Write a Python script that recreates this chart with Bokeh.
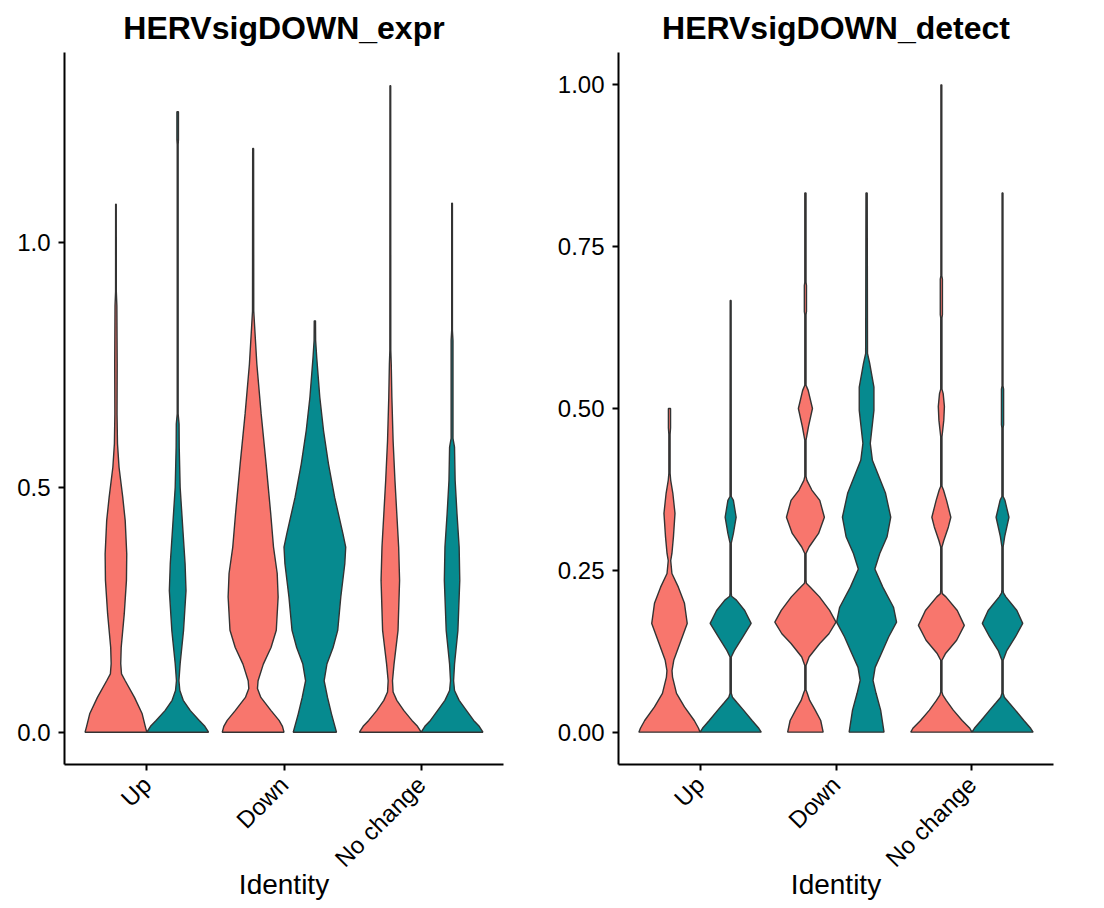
import math
from bokeh.plotting import figure
from bokeh.layouts import row
from bokeh.models import FixedTicker, NumeralTickFormatter
from bokeh.embed import file_html
from bokeh.resources import INLINE

# ---------------- data ----------------
CATEGORIES = ["Up", "Down", "No change"]
CAT_POS = [1, 2, 3]
SPLIT_COLORS = ["#F8766D", "#068A8F"]   # first / second split group
TITLES = ["HERVsigDOWN_expr", "HERVsigDOWN_detect"]
X_LABEL = "Identity"
EXPR_TICKS = [0.0, 0.5, 1.0]
DETECT_TICKS = [0.0, 0.25, 0.5, 0.75, 1.0]

# violin density profiles: value (y) and relative half-width (0..1)
EXPR_UP_A_Y = [0, 0.012, 0.0375, 0.071, 0.105, 0.119, 0.140, 0.173, 0.242, 0.310, 0.364, 0.432, 0.480, 0.541, 0.589, 0.650, 0.752, 0.871, 0.90, 1.078]
EXPR_UP_A_W = [1.0, 0.95, 0.85, 0.60, 0.30, 0.18, 0.155, 0.17, 0.27, 0.34, 0.35, 0.30, 0.22, 0.10, 0.05, 0.035, 0.04, 0.03, 0.012, 0.01]
EXPR_UP_B_Y = [0, 0.012, 0.024, 0.044, 0.065, 0.085, 0.105, 0.140, 0.208, 0.289, 0.344, 0.412, 0.500, 0.582, 0.629, 0.65, 1.20, 1.21, 1.267]
EXPR_UP_B_W = [1.0, 0.88, 0.70, 0.41, 0.18, 0.07, 0.04, 0.08, 0.19, 0.27, 0.24, 0.17, 0.08, 0.05, 0.045, 0.015, 0.015, 0.025, 0.025]
EXPR_DOWN_A_Y = [0, 0.012, 0.024, 0.044, 0.071, 0.089, 0.105, 0.139, 0.173, 0.208, 0.276, 0.324, 0.378, 0.446, 0.548, 0.650, 0.752, 0.827, 0.86, 1.192]
EXPR_DOWN_A_W = [1.0, 0.95, 0.84, 0.58, 0.25, 0.14, 0.16, 0.33, 0.58, 0.75, 0.81, 0.78, 0.66, 0.57, 0.42, 0.26, 0.12, 0.05, 0.02, 0.015]
EXPR_DOWN_B_Y = [0, 0.037, 0.071, 0.105, 0.139, 0.173, 0.208, 0.276, 0.344, 0.378, 0.405, 0.480, 0.548, 0.616, 0.684, 0.765, 0.80, 0.840]
EXPR_DOWN_B_W = [0.70, 0.54, 0.41, 0.30, 0.39, 0.59, 0.74, 0.84, 0.97, 1.0, 0.91, 0.64, 0.44, 0.28, 0.16, 0.06, 0.025, 0.02]
EXPR_NC_A_Y = [0, 0.012, 0.024, 0.044, 0.065, 0.082, 0.105, 0.139, 0.208, 0.310, 0.378, 0.446, 0.514, 0.595, 0.684, 0.752, 0.78, 1.320]
EXPR_NC_A_W = [1.0, 0.88, 0.70, 0.44, 0.21, 0.09, 0.07, 0.12, 0.25, 0.30, 0.27, 0.21, 0.15, 0.09, 0.05, 0.03, 0.015, 0.012]
EXPR_NC_B_Y = [0, 0.012, 0.024, 0.044, 0.065, 0.085, 0.105, 0.139, 0.208, 0.310, 0.378, 0.446, 0.514, 0.582, 0.60, 0.80, 0.82, 1.080]
EXPR_NC_B_W = [1.0, 0.88, 0.70, 0.47, 0.23, 0.08, 0.05, 0.08, 0.19, 0.25, 0.23, 0.16, 0.10, 0.08, 0.03, 0.03, 0.012, 0.012]

DET_UP_A_Y = [0, 0.006, 0.018, 0.039, 0.060, 0.085, 0.095, 0.111, 0.137, 0.168, 0.199, 0.224, 0.245, 0.265, 0.276, 0.302, 0.338, 0.369, 0.389, 0.40, 0.46, 0.47, 0.50]
DET_UP_A_W = [1.0, 0.95, 0.81, 0.49, 0.23, 0.10, 0.083, 0.14, 0.34, 0.58, 0.49, 0.29, 0.08, 0.04, 0.08, 0.13, 0.18, 0.11, 0.04, 0.02, 0.02, 0.035, 0.035]
DET_UP_B_Y = [0, 0.006, 0.018, 0.034, 0.045, 0.054, 0.060, 0.116, 0.126, 0.147, 0.168, 0.188, 0.204, 0.210, 0.215, 0.292, 0.307, 0.332, 0.358, 0.364, 0.667]
DET_UP_B_W = [1.0, 0.92, 0.70, 0.42, 0.22, 0.06, 0.02, 0.02, 0.12, 0.40, 0.67, 0.46, 0.19, 0.03, 0.02, 0.02, 0.09, 0.18, 0.09, 0.02, 0.015]
DET_DOWN_A_Y = [0, 0.018, 0.034, 0.049, 0.060, 0.065, 0.103, 0.116, 0.137, 0.152, 0.170, 0.188, 0.209, 0.224, 0.230, 0.235, 0.276, 0.286, 0.307, 0.332, 0.358, 0.374, 0.389, 0.395, 0.451, 0.472, 0.500, 0.528, 0.536, 0.645, 0.65, 0.69, 0.695, 0.833]
DET_DOWN_A_W = [0.58, 0.50, 0.32, 0.14, 0.06, 0.02, 0.02, 0.12, 0.47, 0.77, 1.0, 0.79, 0.46, 0.16, 0.03, 0.02, 0.02, 0.12, 0.43, 0.62, 0.47, 0.21, 0.05, 0.02, 0.02, 0.10, 0.23, 0.09, 0.02, 0.02, 0.035, 0.035, 0.02, 0.02]
DET_DOWN_B_Y = [0, 0.034, 0.060, 0.080, 0.100, 0.121, 0.147, 0.170, 0.193, 0.224, 0.252, 0.276, 0.302, 0.332, 0.369, 0.400, 0.420, 0.446, 0.497, 0.533, 0.57, 0.585, 0.833]
DET_DOWN_B_W = [0.57, 0.46, 0.31, 0.21, 0.28, 0.48, 0.72, 0.98, 0.88, 0.53, 0.27, 0.43, 0.67, 0.79, 0.62, 0.36, 0.19, 0.12, 0.24, 0.24, 0.10, 0.03, 0.02]
DET_NC_A_Y = [0, 0.006, 0.018, 0.034, 0.049, 0.057, 0.062, 0.111, 0.121, 0.142, 0.165, 0.188, 0.209, 0.214, 0.22, 0.286, 0.296, 0.317, 0.332, 0.358, 0.374, 0.38, 0.456, 0.482, 0.503, 0.523, 0.53, 0.64, 0.645, 0.70, 0.705, 1.0]
DET_NC_A_W = [1.0, 0.93, 0.68, 0.39, 0.16, 0.05, 0.02, 0.02, 0.13, 0.50, 0.75, 0.52, 0.15, 0.03, 0.02, 0.02, 0.08, 0.23, 0.31, 0.17, 0.07, 0.02, 0.02, 0.08, 0.10, 0.06, 0.02, 0.02, 0.035, 0.035, 0.015, 0.015]
DET_NC_B_Y = [0, 0.006, 0.018, 0.034, 0.045, 0.054, 0.06, 0.111, 0.126, 0.147, 0.168, 0.188, 0.209, 0.215, 0.22, 0.286, 0.302, 0.332, 0.358, 0.364, 0.47, 0.475, 0.53, 0.535, 0.833]
DET_NC_B_W = [1.0, 0.92, 0.70, 0.42, 0.22, 0.06, 0.02, 0.02, 0.14, 0.42, 0.66, 0.47, 0.11, 0.03, 0.02, 0.02, 0.07, 0.21, 0.08, 0.02, 0.02, 0.035, 0.035, 0.015, 0.015]

EXPR_VIOLINS = [
    [(EXPR_UP_A_Y, EXPR_UP_A_W), (EXPR_UP_B_Y, EXPR_UP_B_W)],
    [(EXPR_DOWN_A_Y, EXPR_DOWN_A_W), (EXPR_DOWN_B_Y, EXPR_DOWN_B_W)],
    [(EXPR_NC_A_Y, EXPR_NC_A_W), (EXPR_NC_B_Y, EXPR_NC_B_W)],
]
DET_VIOLINS = [
    [(DET_UP_A_Y, DET_UP_A_W), (DET_UP_B_Y, DET_UP_B_W)],
    [(DET_DOWN_A_Y, DET_DOWN_A_W), (DET_DOWN_B_Y, DET_DOWN_B_W)],
    [(DET_NC_A_Y, DET_NC_A_W), (DET_NC_B_Y, DET_NC_B_W)],
]

DODGE = 0.225      # offset of each split violin from the category centre
HALF_W = 0.225     # maximal half-width of a violin

FONT = "Liberation Sans"
FIG_H = 902


def violin_polys(violins):
    xs, ys, colors = [], [], []
    for ci, pair in enumerate(violins):
        for gi, (yv, wv) in enumerate(pair):
            c = CAT_POS[ci] + (-DODGE if gi == 0 else DODGE)
            right = [c + w * HALF_W for w in wv]
            left = [c - w * HALF_W for w in reversed(wv)]
            xs.append(right + left)
            ys.append(list(yv) + list(reversed(yv)))
            colors.append(SPLIT_COLORS[gi])
    return xs, ys, colors


def make_panel(title, violins, yrange, ticks, fmt, width, mb_left, mb_right):
    p = figure(width=width, height=FIG_H, x_range=(0.4, 3.6), y_range=yrange,
               output_backend="svg", toolbar_location=None,
               min_border_left=mb_left, min_border_right=mb_right,
               min_border_top=52, min_border_bottom=120)
    p.background_fill_color = "white"
    p.border_fill_color = "white"
    p.outline_line_color = None
    p.grid.visible = False

    xs, ys, colors = violin_polys(violins)
    p.patches(xs, ys, fill_color=colors, line_color="#333333", line_width=1.4)

    p.title.text = title
    p.title.align = "center"
    p.title.vertical_align = "top"
    p.title.text_font = FONT
    p.title.text_font_size = "32px"
    p.title.text_font_style = "bold"
    p.title.text_color = "black"
    p.title.standoff = 10

    for ax in (p.xaxis[0], p.yaxis[0]):
        ax.axis_line_width = 2
        ax.axis_line_color = "black"
        ax.major_tick_line_width = 2
        ax.major_tick_line_color = "black"
        ax.major_tick_out = 6
        ax.major_tick_in = 0
        ax.minor_tick_line_color = None
        ax.major_label_text_font = FONT
        ax.major_label_text_font_size = "24px"
        ax.major_label_text_color = "black"
        ax.major_label_standoff = 8

    p.yaxis.ticker = FixedTicker(ticks=ticks)
    p.yaxis.formatter = NumeralTickFormatter(format=fmt)

    p.xaxis.ticker = FixedTicker(ticks=CAT_POS)
    p.xaxis.major_label_overrides = {pos: name for pos, name in zip(CAT_POS, CATEGORIES)}
    p.xaxis.major_label_orientation = math.pi / 4
    p.xaxis.major_label_standoff = 10
    p.xaxis.axis_label = X_LABEL
    p.xaxis.axis_label_text_font = FONT
    p.xaxis.axis_label_text_font_size = "28px"
    p.xaxis.axis_label_text_font_style = "normal"
    p.xaxis.axis_label_text_color = "black"
    p.xaxis.axis_label_standoff = -16
    return p


p1 = make_panel(TITLES[0], EXPR_VIOLINS, (-0.066, 1.388), EXPR_TICKS, "0.0", 550, 64, 47)
p2 = make_panel(TITLES[1], DET_VIOLINS, (-0.05, 1.05), DETECT_TICKS, "0.00", 546, 68, 43)

layout = row(p1, p2)
open("out.html", "w").write(file_html(layout, INLINE))
